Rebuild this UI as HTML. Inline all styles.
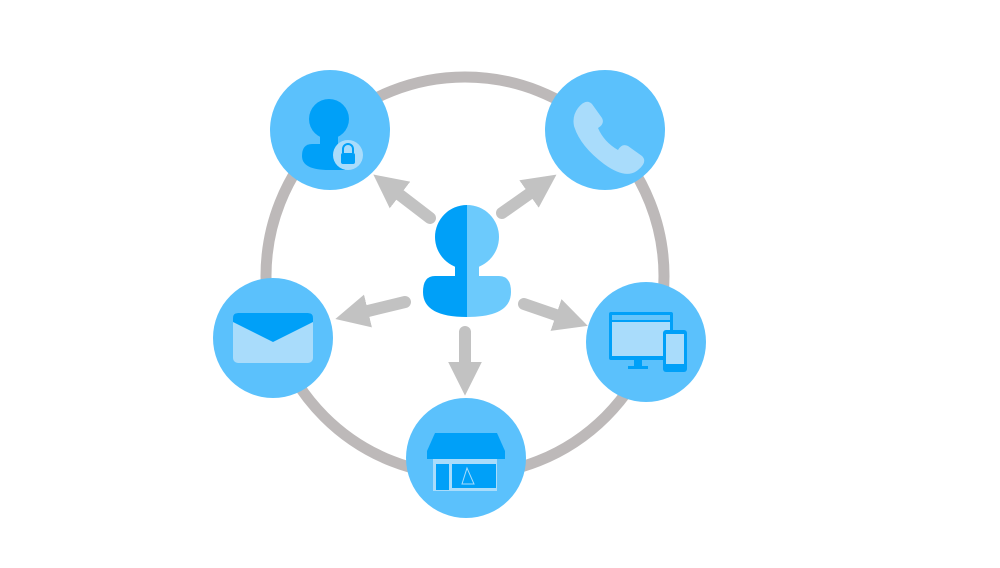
<!DOCTYPE html>
<html><head><meta charset="utf-8"><style>html,body{margin:0;padding:0;background:#fff}</style></head>
<body>
<svg width="1000" height="563" viewBox="0 0 1000 563" xmlns="http://www.w3.org/2000/svg">
<defs>
<marker id="ah" viewBox="0 0 10 10" refX="0" refY="5" markerWidth="2.8" markerHeight="2.8" orient="auto" markerUnits="strokeWidth">
<path d="M0,0 L10,5 L0,10 z" fill="#c2c2c2"/>
</marker>
</defs>
<circle cx="465" cy="276" r="199" fill="none" stroke="#bdb9b9" stroke-width="11"/>
<g stroke="#c2c2c2" stroke-width="12" stroke-linecap="round" marker-end="url(#ah)">
<line x1="430" y1="218" x2="400" y2="195"/>
<line x1="502" y1="213" x2="529" y2="194"/>
<line x1="405" y1="302" x2="368" y2="311"/>
<line x1="524" y1="304" x2="556" y2="315"/>
<line x1="465" y1="332" x2="465" y2="362"/>
</g>
<g fill="#5bc1fc">
<circle cx="330" cy="130" r="60"/>
<circle cx="605" cy="130" r="60"/>
<circle cx="273" cy="338" r="60"/>
<circle cx="646" cy="342" r="60"/>
<circle cx="466" cy="458" r="60"/>
</g>
<!-- center person -->
<clipPath id="lh"><rect x="400" y="190" width="67" height="140"/></clipPath>
<clipPath id="rh"><rect x="467" y="190" width="67" height="140"/></clipPath>
<g clip-path="url(#lh)" fill="#00a0f8">
<circle cx="467" cy="237" r="32"/><rect x="455" y="260" width="24" height="20"/>
<path d="M435,276 Q423,276 423,292 Q423,317 467,317 Q511,317 511,292 Q511,276 499,276 Z"/>
</g>
<g clip-path="url(#rh)" fill="#6ccafc">
<circle cx="467" cy="237" r="32"/><rect x="455" y="260" width="24" height="20"/>
<path d="M435,276 Q423,276 423,292 Q423,317 467,317 Q511,317 511,292 Q511,276 499,276 Z"/>
</g>
<!-- user lock icon -->
<g fill="#00a0f8">
<circle cx="329" cy="119" r="20"/><rect x="320" y="132" width="18" height="14"/>
<path d="M312,144 Q302,144 302,156 Q302,170 329,170 L345,170 L345,144 Z"/>
</g>
<circle cx="348" cy="155" r="15" fill="#a9dcfb"/>
<rect x="341" y="153" width="14" height="11" rx="2" fill="#00a0f8"/>
<path d="M343,153 v-4 a5,5 0 0 1 10,0 v4" fill="none" stroke="#00a0f8" stroke-width="2"/>
<!-- phone -->
<path d="M578,108 q8,-10 14,-4 l10,14 q3,6 -4,10 q6,14 20,22 q4,-7 10,-4 l14,10 q6,6 -4,14 q-12,10 -34,-6 q-24,-18 -30,-38 q-2,-10 4,-18z" fill="#a9dcfb"/>
<!-- envelope -->
<rect x="233" y="313" width="80" height="50" rx="5" fill="#a9dcfb"/>
<path d="M233,318 q0,-5 5,-5 h70 q5,0 5,5 v4 l-40,20 l-40,-20z" fill="#00a0f8"/>
<!-- devices -->
<rect x="609" y="312" width="64" height="48" rx="2" fill="#00a0f8"/>
<rect x="612" y="322" width="58" height="34" fill="#a9dcfb"/>
<rect x="612" y="315" width="58" height="5" fill="#a9dcfb" opacity=".6"/>
<rect x="634" y="360" width="8" height="6" fill="#00a0f8"/><rect x="628" y="366" width="20" height="3" fill="#00a0f8"/>
<rect x="663" y="330" width="24" height="42" rx="3" fill="#00a0f8"/>
<rect x="666" y="334" width="18" height="30" fill="#a9dcfb"/>
<!-- shop -->
<path d="M435,433 h62 l8,18 h-78z" fill="#00a0f8"/>
<rect x="427" y="451" width="78" height="8" fill="#00a0f8"/>
<rect x="433" y="459" width="64" height="32" fill="#a9dcfb"/>
<rect x="436" y="464" width="13" height="26" fill="#00a0f8"/>
<rect x="452" y="464" width="44" height="24" fill="#00a0f8"/>
<path d="M467,468 l-5,16 h12 z" fill="none" stroke="#a9dcfb" stroke-width="1"/>
</svg>
</body></html>
